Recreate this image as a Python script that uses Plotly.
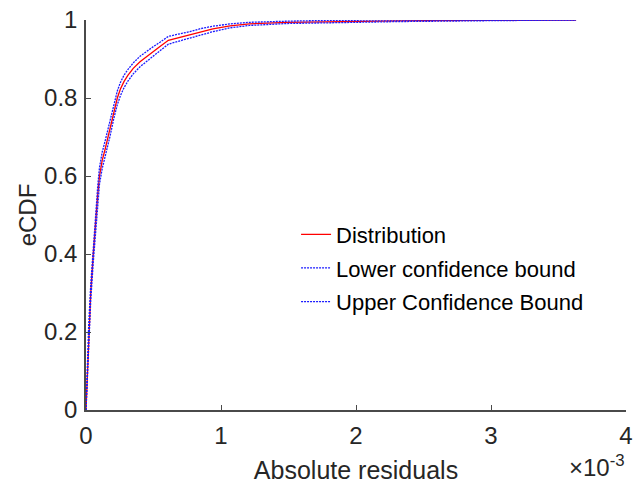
import plotly.graph_objects as go

abs_resid = [0.0, 0.000005, 0.000012, 0.00002, 0.000035, 0.000054, 0.000065, 0.000075,
             0.000087, 0.0001, 0.00012, 0.000141, 0.00016, 0.000178, 0.000205, 0.000232,
             0.000255, 0.000281, 0.00031, 0.00035, 0.0004, 0.000461, 0.0005, 0.000548,
             0.00061, 0.0007, 0.00077, 0.00085, 0.00094, 0.001067, 0.00121, 0.00149,
             0.0018, 0.00233, 0.0029, 0.00363]
ecdf_vals = [0.0, 0.05, 0.12, 0.2, 0.3, 0.4, 0.455, 0.5, 0.553, 0.6, 0.64, 0.668, 0.697,
             0.722, 0.765, 0.80, 0.823, 0.842, 0.858, 0.876, 0.893, 0.910, 0.92, 0.932,
             0.948, 0.956, 0.962, 0.970, 0.977, 0.985, 0.990, 0.994, 0.996, 0.998, 0.999, 1.0]
lower_bound = [0.0, 0.040, 0.106, 0.183, 0.280, 0.379, 0.433, 0.478, 0.531, 0.579, 0.619,
               0.647, 0.677, 0.702, 0.746, 0.783, 0.806, 0.826, 0.843, 0.862, 0.880, 0.898,
               0.908, 0.921, 0.938, 0.947, 0.954, 0.963, 0.970, 0.980, 0.986, 0.991, 0.993,
               0.996, 0.998, 1.0]
upper_bound = [0.0, 0.060, 0.134, 0.218, 0.320, 0.422, 0.477, 0.522, 0.575, 0.622, 0.661,
               0.689, 0.717, 0.742, 0.784, 0.818, 0.840, 0.858, 0.873, 0.890, 0.907, 0.923,
               0.932, 0.943, 0.958, 0.965, 0.970, 0.978, 0.984, 0.990, 0.994, 0.997, 0.999,
               1.0, 1.0, 1.0]

x_tick_vals = [0, 0.001, 0.002, 0.003, 0.004]
x_tick_text = ["0", "1", "2", "3", "4"]
y_tick_vals = [0, 0.2, 0.4, 0.6, 0.8, 1]
y_tick_text = ["0", "0.2", "0.4", "0.6", "0.8", "1"]

FONT = "Liberation Sans, Arial, sans-serif"
TXT = "#262626"
AX = "#4a4a4a"
BOUND_LINE = dict(color="#1a1aff", width=1.3, dash="2px,1px")

fig = go.Figure()
fig.add_trace(go.Scatter(x=abs_resid, y=ecdf_vals, mode="lines", name="Distribution",
                         legendgroup="a",
                         line=dict(color="#ff0000", width=1.3)))
fig.add_trace(go.Scatter(x=abs_resid, y=lower_bound, mode="lines", name="Lower confidence bound",
                         legendgroup="b", line=BOUND_LINE))
fig.add_trace(go.Scatter(x=abs_resid, y=upper_bound, mode="lines", name="Upper Confidence Bound",
                         legendgroup="c", line=BOUND_LINE))

fig.update_layout(
    width=633, height=484,
    margin=dict(l=86, r=7, t=20, b=74, autoexpand=False),
    paper_bgcolor="white", plot_bgcolor="white",
    font=dict(family=FONT, size=22, color=TXT),
    showlegend=True,
    legend=dict(x=0.389, y=0.364, xanchor="left", yanchor="middle",
                bgcolor="rgba(0,0,0,0)", borderwidth=0, tracegroupgap=2,
                font=dict(family=FONT, size=22, color="black"),
                itemwidth=30),
    xaxis=dict(range=[0, 0.004], tickvals=x_tick_vals, ticktext=x_tick_text,
               showgrid=False, zeroline=False, showline=True, linecolor=AX, linewidth=1.5,
               ticks="inside", ticklen=5, tickcolor=AX, tickwidth=1, automargin=False,
               tickfont=dict(family=FONT, size=24, color=TXT), ticklabelstandoff=3,
               title=dict(text="Absolute residuals", font=dict(family=FONT, size=25, color=TXT),
                          standoff=19),
               mirror=False),
    yaxis=dict(range=[0, 1], tickvals=y_tick_vals, ticktext=y_tick_text,
               showgrid=False, zeroline=False, showline=True, linecolor=AX, linewidth=1.5,
               ticks="inside", ticklen=5, tickcolor=AX, tickwidth=1, automargin=False,
               tickfont=dict(family=FONT, size=24, color=TXT), ticklabelstandoff=2,
               title=dict(text="eCDF", font=dict(family=FONT, size=24, color=TXT), standoff=1),
               mirror=False),
)

fig.add_annotation(text="×10<sup>-3</sup>", xref="paper", yref="paper", x=1.002, y=-0.1,
                   xanchor="right", yanchor="top", showarrow=False,
                   font=dict(family=FONT, size=24, color=TXT))

fig.write_html("out.html")
